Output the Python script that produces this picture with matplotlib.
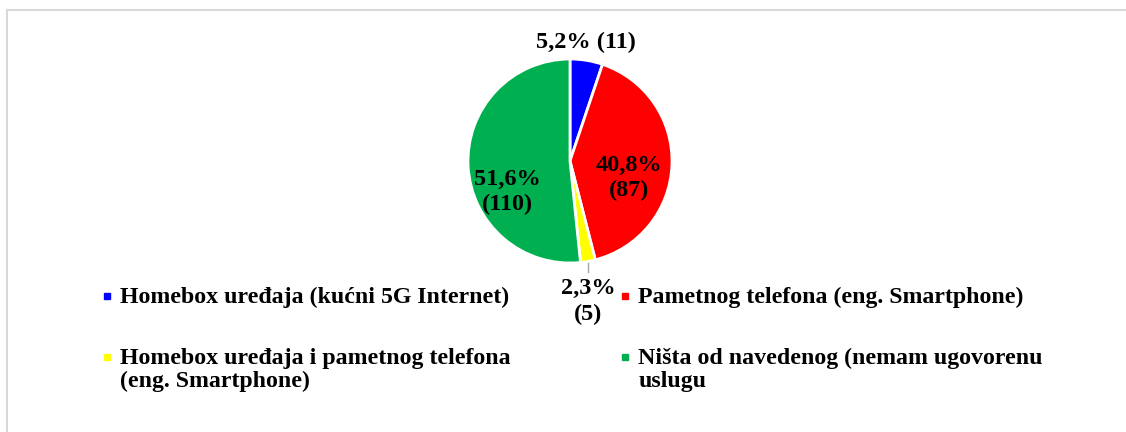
import matplotlib.pyplot as plt
from matplotlib.lines import Line2D

# survey answers: which 5G service is contracted
categories = [
    'Homebox uređaja (kućni 5G Internet)',
    'Pametnog telefona (eng. Smartphone)',
    'Homebox uređaja i pametnog telefona\n(eng. Smartphone)',
    'Ništa od navedenog (nemam ugovorenu\nuslugu',
]
counts = [11, 87, 5, 110]
colors = ['#0000ff', '#ff0000', '#ffff00', '#00b050']

plt.rcParams['font.family'] = ['Liberation Serif', 'DejaVu Serif']
plt.rcParams['font.weight'] = 'bold'

W, H = 1126, 432
FS = 17.5
fig = plt.figure(figsize=(W / 100, H / 100), dpi=100)

# pie centre (570, 161) px, radius 102 px
cx, cy, r = 570, 161, 102
size = 3 * r
ax = fig.add_axes([(cx - size / 2) / W, (H - cy - size / 2) / H, size / W, size / H])

wedges, _ = ax.pie(counts, colors=colors, startangle=90, counterclock=False,
                   radius=1.0, wedgeprops=dict(edgecolor='white', linewidth=2.0))
ax.set_xlim(-1.5, 1.5)
ax.set_ylim(-1.5, 1.5)
ax.set_aspect('equal')
ax.axis('off')

total = sum(counts)


def fmt(v):
    return f'{v / total * 100:.1f}'.replace('.', ',') + '%'


# label placement in pie units
label_pos = [(0.157, 1.16), (0.58, -0.166), (0.176, -1.377), (-0.613, -0.30)]
label_txt = [
    f'{fmt(counts[0])} ({counts[0]})',
    f'{fmt(counts[1])}\n({counts[1]})',
    f'{fmt(counts[2])}\n({counts[2]})',
    f'{fmt(counts[3])}\n({counts[3]})',
]
for (x, y), t in zip(label_pos, label_txt):
    ax.text(x, y, t, ha='center', va='center', fontsize=FS, fontweight='bold',
            linespacing=1.25)

# leader line for the small yellow slice
ax.plot([0.176, 0.176], [-1.0, -1.09], color='#a6a6a6', lw=1)

# legend drawn by hand: two columns, marker on the first text line
LEG_FS = 17.2
line_gap = 23.4
col_x = [106.5, 625]
row_base = [303.3, 363.8]
slots = [(0, 0), (1, 0), (0, 1), (1, 1)]
for (ci, ri), label, c in zip(slots, categories, colors):
    mx, by = col_x[ci], row_base[ri]
    fig.add_artist(Line2D([mx / W], [1 - (by - 7.3) / H], ls='none', marker='s',
                          markersize=5, color=c))
    for k, line in enumerate(label.split('\n')):
        fig.text((mx + 13.5) / W, 1 - (by + k * line_gap) / H, line, ha='left',
                 va='baseline', fontsize=LEG_FS, fontweight='bold')

# thin frame along the top and left edges
fig.add_artist(Line2D([6.5 / W, 1], [1 - 9.5 / H, 1 - 9.5 / H], color='#d9d9d9', lw=1.5))
fig.add_artist(Line2D([6.5 / W, 6.5 / W], [0, 1 - 9.5 / H], color='#d9d9d9', lw=1.5))

fig.savefig('out.png', dpi=100)
